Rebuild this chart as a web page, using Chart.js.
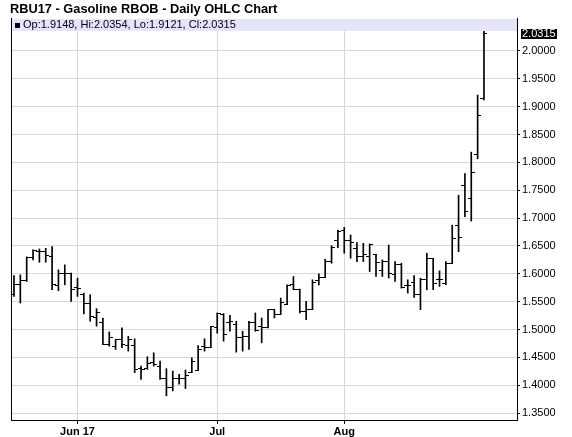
<!DOCTYPE html>
<html><head><meta charset="utf-8">
<script src="https://cdn.jsdelivr.net/npm/chart.js@4.4.0/dist/chart.umd.min.js"></script>
<style>html,body{margin:0;padding:0;background:#fff;}#wrap{width:572px;height:437px;position:relative;}</style>
</head><body><div id="wrap"><canvas id="c" width="572" height="437"></canvas></div>
<script>
const titleText = 'RBU17 - Gasoline RBOB - Daily OHLC Chart';
const dates = ['05-17','05-18','05-19','05-22','05-23','05-24','05-25','05-26','05-30','05-31',
'06-01','06-02','06-05','06-06','06-07','06-08','06-09','06-12','06-13','06-14','06-15','06-16','06-19','06-20','06-21','06-22','06-23','06-26','06-27','06-28','06-29','06-30',
'07-03','07-05','07-06','07-07','07-10','07-11','07-12','07-13','07-14','07-17','07-18','07-19','07-20','07-21','07-24','07-25','07-26','07-27','07-28','07-31',
'08-01','08-02','08-03','08-04','08-07','08-08','08-09','08-10','08-11','08-14','08-15','08-16','08-17','08-18','08-21','08-22','08-23','08-24','08-25','08-28','08-29','08-30','08-31'];
const opens = [1.5625,1.5804,1.5875,1.6292,1.6399,1.6399,1.6316,1.5792,1.6012,1.6012,
1.5756,1.5637,1.5476,1.5220,1.5119,1.4732,1.4702,1.4821,1.4714,1.4714,
1.4298,1.4298,1.4405,1.4345,1.4120,1.3959,1.4120,1.4120,1.4227,1.4274,
1.4691,1.4673,1.5042,1.5268,1.5125,1.5089,1.4857,1.4869,1.5131,1.5060,
1.5030,1.5357,1.5268,1.5446,1.5804,1.5726,1.5327,1.5357,1.5880,1.5935,
1.6220,1.6607,1.6786,1.6595,1.6458,1.6310,1.6310,1.6339,1.6054,1.6220,
1.5982,1.6173,1.5792,1.5845,1.5637,1.5893,1.6280,1.5893,1.5821,1.6190,
1.6875,1.7589,1.7351,1.8137,1.9148];
const highs = [1.5970,1.5982,1.6304,1.6429,1.6446,1.6458,1.6488,1.6071,1.6161,1.6012,
1.5923,1.5655,1.5625,1.5375,1.5208,1.4958,1.4821,1.5030,1.4880,1.4834,
1.4345,1.4512,1.4583,1.4434,1.4298,1.4256,1.4196,1.4274,1.4494,1.4714,
1.4834,1.5060,1.5298,1.5286,1.5255,1.5149,1.4970,1.5149,1.5298,1.5208,
1.5357,1.5357,1.5565,1.5804,1.5952,1.5726,1.5506,1.5893,1.6000,1.6262,
1.6506,1.6786,1.6833,1.6696,1.6560,1.6548,1.6536,1.6339,1.6250,1.6518,
1.6220,1.6190,1.5893,1.5970,1.5923,1.6370,1.6280,1.6054,1.6220,1.6875,
1.7411,1.7798,1.8184,1.9208,2.0354];
const lows = [1.5595,1.5476,1.5863,1.6250,1.6208,1.6208,1.5714,1.5696,1.5804,1.5506,
1.5595,1.5280,1.5149,1.5060,1.4732,1.4702,1.4643,1.4673,1.4613,1.4227,
1.4107,1.4286,1.4345,1.4107,1.3810,1.3899,1.4018,1.3941,1.4227,1.4274,
1.4613,1.4673,1.4935,1.4792,1.4970,1.4595,1.4613,1.4643,1.4970,1.4762,
1.5030,1.5208,1.5268,1.5446,1.5714,1.5298,1.5179,1.5357,1.5800,1.5935,
1.6190,1.6470,1.6370,1.6280,1.6220,1.6220,1.6042,1.5952,1.5952,1.5923,
1.5863,1.5744,1.5655,1.5577,1.5357,1.5714,1.5714,1.5774,1.5804,1.6190,
1.6398,1.7024,1.6946,1.8065,1.9121];
const closes = [1.5804,1.5875,1.6292,1.6411,1.6399,1.6327,1.5816,1.6012,1.6012,1.5714,
1.5744,1.5476,1.5238,1.5298,1.4732,1.4851,1.4821,1.4732,1.4821,1.4286,
1.4286,1.4393,1.4375,1.4120,1.3959,1.4120,1.4120,1.4179,1.4434,1.4643,
1.4673,1.5048,1.5286,1.4911,1.5149,1.4851,1.4875,1.5131,1.4988,1.5030,
1.5357,1.5268,1.5488,1.5786,1.5726,1.5327,1.5357,1.5845,1.5935,1.6220,
1.6470,1.6768,1.6595,1.6560,1.6310,1.6339,1.6518,1.6208,1.6220,1.6012,
1.6161,1.5762,1.5792,1.5637,1.5893,1.6280,1.5833,1.5905,1.6190,1.6637,
1.6655,1.7113,1.7827,1.8839,2.0315];
const yTicks = [1.35,1.40,1.45,1.50,1.55,1.60,1.65,1.70,1.75,1.80,1.85,1.90,1.95,2.00];
const xTickDates = ['06-01','07-03','08-01'];
const xTickLabels = ['Jun 17','Jul','Aug'];

const FONT = "'Liberation Sans', Arial, sans-serif";
const xTickIdx = xTickDates.map(d => dates.indexOf(d));
const last = dates.length - 1;

function tickImg(left) {
  const c = document.createElement('canvas');
  c.width = 7; c.height = 1;
  const g = c.getContext('2d');
  g.fillStyle = '#000';
  if (left) g.fillRect(0, 0, 4, 1); else g.fillRect(3, 0, 4, 1);
  return c;
}

const ohlcPlugin = {
  id: 'ohlcExtras',
  beforeDatasetsDraw(chart) {
    const {ctx, chartArea: a} = chart;
    ctx.imageSmoothingEnabled = false;
    ctx.save();
    ctx.fillStyle = '#e4e4fa';
    ctx.fillRect(a.left + 1, a.top, a.right - a.left - 1, 12);
    ctx.fillStyle = '#000';
    ctx.fillRect(a.left + 4, a.top + 4, 5, 5);
    ctx.font = '11px ' + FONT;
    ctx.textBaseline = 'middle';
    const f = v => v.toFixed(4);
    ctx.fillText('Op:' + f(opens[last]) + ', Hi:' + f(highs[last]) + ', Lo:' + f(lows[last]) + ', Cl:' + f(closes[last]), a.left + 12, a.top + 6.5);
    ctx.restore();
  },
  afterDraw(chart) {
    const {ctx, chartArea: a, scales} = chart;
    const y = scales.y.getPixelForValue(closes[last]);
    ctx.save();
    ctx.fillStyle = '#000';
    ctx.fillRect(a.right + 4, Math.round(y) - 4, 36, 10);
    ctx.fillStyle = '#fff';
    ctx.font = '11px ' + FONT;
    ctx.textBaseline = 'middle';
    ctx.fillText(closes[last].toFixed(4), a.right + 5, Math.round(y) + 1);
    ctx.restore();
  }
};

new Chart(document.getElementById('c'), {
  type: 'bar',
  data: {
    datasets: [
      { type: 'bar', data: dates.map((d, i) => ({x: i, y: [lows[i], highs[i]]})), backgroundColor: '#000', borderWidth: 0, barThickness: 1, grouped: false, xAxisID: 'x', yAxisID: 'y' },
      { type: 'scatter', data: dates.map((d, i) => ({x: i, y: opens[i]})), pointStyle: tickImg(true), pointRadius: 3, showLine: false, xAxisID: 'x', yAxisID: 'y' },
      { type: 'scatter', data: dates.map((d, i) => ({x: i, y: closes[i]})), pointStyle: tickImg(false), pointRadius: 3, showLine: false, xAxisID: 'x', yAxisID: 'y' }
    ]
  },
  options: {
    responsive: false, animation: false,
    layout: { padding: { left: 10, right: 0, top: 2, bottom: 0 } },
    plugins: {
      legend: { display: false }, tooltip: { enabled: false },
      title: { display: true, text: titleText, align: 'start', color: '#000',
        font: { family: FONT, size: 12.8, weight: 'bold' }, padding: { top: 0, bottom: 1.6 } }
    },
    scales: {
      y: {
        position: 'right', min: 1.3377, max: 2.0574,
        afterBuildTicks: s => { s.ticks = yTicks.map(v => ({value: v})); },
        afterFit: s => { s.width = 55; },
        ticks: { callback: v => Number(v).toFixed(4), color: '#000', font: { family: FONT, size: 11 }, padding: 2 },
        grid: { color: '#d8d8d8', tickColor: '#000', tickLength: 3 },
        border: { color: '#000' }
      },
      yL: {
        position: 'left', min: 0, max: 1,
        afterFit: s => { s.width = 1; },
        ticks: { display: false },
        grid: { drawOnChartArea: false, drawTicks: false },
        border: { color: '#000' }
      },
      x: {
        type: 'linear', position: 'bottom', min: -0.47, max: 79.2, offset: false,
        afterBuildTicks: s => { s.ticks = xTickIdx.map(v => ({value: v})); },
        afterFit: s => { s.height = 17; },
        ticks: { callback: v => xTickLabels[xTickIdx.indexOf(v)], color: '#000', font: { family: FONT, size: 11, weight: 'bold' }, padding: 1, maxRotation: 0, autoSkip: false },
        grid: { color: '#d8d8d8', tickColor: '#000', tickLength: 4, offset: false },
        border: { color: '#000' }
      }
    }
  },
  plugins: [ohlcPlugin]
});
</script>
</body></html>
